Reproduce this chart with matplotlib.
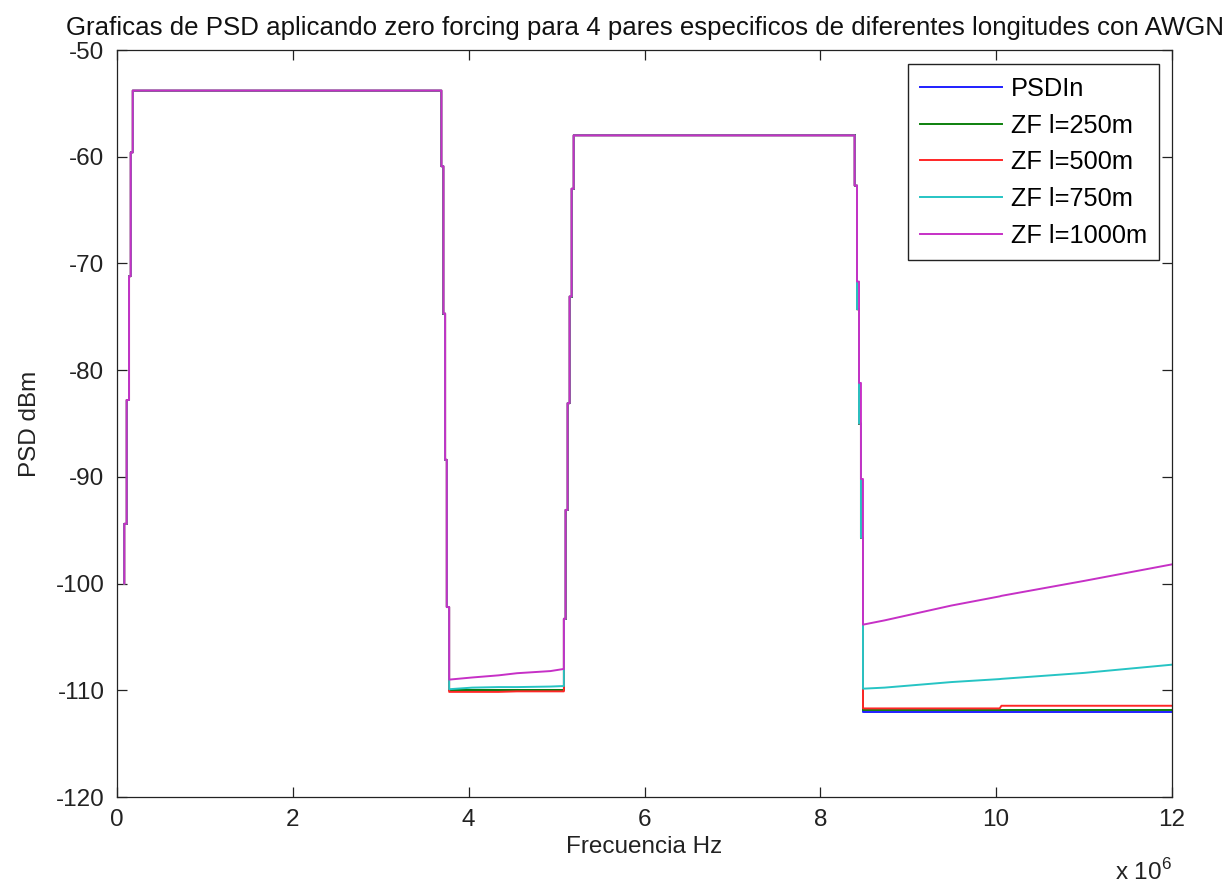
import matplotlib
matplotlib.use("Agg")
import matplotlib.pyplot as plt

plt.rcParams["font.family"] = ["Liberation Sans", "DejaVu Sans"]
plt.rcParams["axes.unicode_minus"] = False
plt.rcParams["mathtext.fontset"] = "custom"
plt.rcParams["mathtext.rm"] = "Liberation Sans"

# ---- datos: frecuencia en MHz, PSD en dBm ----
# rampa inicial (comun a todas las curvas)
f_rampa = [0.083, 0.083, 0.110, 0.110, 0.137, 0.137, 0.156, 0.156, 0.179, 0.179]
psd_rampa = [-100.0, -94.4, -94.4, -82.8, -82.8, -71.2, -71.2, -59.6, -59.6, -53.8]

# caida cerca de 3.75 MHz (comun)
f_caida1 = [3.690, 3.690, 3.713, 3.713, 3.732, 3.732, 3.751, 3.751, 3.778]
psd_caida1 = [-53.8, -60.9, -60.9, -74.7, -74.7, -88.4, -88.4, -102.2, -102.2]

# banda 3.78 - 5.08 MHz, nivel de cada curva
f_banda = [3.778, 4.04, 4.34, 4.55, 4.93, 5.083]
banda_psdin = [-110.0, -110.0, -110.0, -110.0, -110.0, -110.0]
banda_250 = [-110.0, -110.0, -110.0, -110.0, -110.0, -110.0]
banda_500 = [-110.15, -110.15, -110.15, -110.1, -110.1, -110.1]
banda_750 = [-109.9, -109.75, -109.7, -109.7, -109.65, -109.6]
banda_1000 = [-109.0, -108.8, -108.6, -108.4, -108.2, -108.0]

# subida cerca de 5.1 MHz y banda alta hasta 8.39 MHz (comun)
f_subida = [5.083, 5.102, 5.102, 5.125, 5.125, 5.148, 5.148, 5.171, 5.171, 5.194, 5.194, 8.39]
psd_subida = [-103.3, -103.3, -93.1, -93.1, -83.1, -83.1, -73.1, -73.1, -63.0, -63.0, -58.0, -58.0]

# caida cerca de 8.5 MHz
f_caida2 = [8.39, 8.417, 8.417, 8.44, 8.44, 8.462, 8.462, 8.485]
caida2_base = [-62.7, -62.7, -74.3, -74.3, -85.0, -85.0, -95.7, -95.7]
caida2_1000 = [-62.7, -62.7, -71.7, -71.7, -81.2, -81.2, -90.2, -90.2]

# ultima banda 8.5 - 12 MHz
f_cola = [8.485, 8.73, 9.49, 10.04, 10.06, 11.0, 12.0]
cola_psdin = [-112.0, -112.0, -112.0, -112.0, -112.0, -112.0, -112.0]
cola_250 = [-111.85, -111.85, -111.85, -111.85, -111.85, -111.85, -111.85]
cola_500 = [-111.7, -111.7, -111.7, -111.7, -111.45, -111.45, -111.45]
cola_750 = [-109.85, -109.75, -109.23, -108.95, -108.93, -108.37, -107.6]
cola_1000 = [-103.85, -103.45, -102.06, -101.2, -101.15, -99.75, -98.2]

nombres = ["PSDIn", "ZF l=250m", "ZF l=500m", "ZF l=750m", "ZF l=1000m"]
colores = ["#1f1fff", "#0d800d", "#ff2626", "#26c4c4", "#c630c6"]
bandas = [banda_psdin, banda_250, banda_500, banda_750, banda_1000]
caidas = [caida2_base, caida2_base, caida2_base, caida2_base, caida2_1000]
colas = [cola_psdin, cola_250, cola_500, cola_750, cola_1000]

f_total = f_rampa + f_caida1 + f_banda + f_subida + f_caida2 + f_cola

fig = plt.figure(figsize=(12.3, 8.84), dpi=100)
ax = fig.add_axes([117 / 1230, 1 - 797 / 884, 1055 / 1230, 747 / 884])

for nombre, color, banda, caida, cola in zip(nombres, colores, bandas, caidas, colas):
    psd = psd_rampa + psd_caida1 + banda + psd_subida + caida + cola
    ax.plot(f_total, psd, color=color, lw=1.4, label=nombre)

fs = 17.5
ax.set_xlim(0, 12)
ax.set_ylim(-120, -50)
ax.set_xticks(range(0, 13, 2))
ax.set_yticks(range(-120, -49, 10))
ax.tick_params(direction="in", length=7, width=0.9, top=True, right=True,
               labelsize=fs, colors="#222222", labelcolor="#222222")
ax.tick_params(axis="x", pad=9)
ax.tick_params(axis="y", pad=9)
for s in ax.spines.values():
    s.set_linewidth(0.9)
    s.set_color("#222222")

ax.set_title("Graficas de PSD aplicando zero forcing para 4 pares especificos de diferentes longitudes con AWGN",
             fontsize=18.6, pad=10.5, color="#111111")
ax.set_xlabel("Frecuencia Hz", fontsize=fs, labelpad=3, color="#222222")
ax.set_ylabel("PSD dBm", fontsize=fs, color="#222222")
ax.yaxis.set_label_coords(-0.072, 0.5)
ax.text(1.0, (797 - 880) / 747, "x 10$^6$", transform=ax.transAxes, fontsize=fs,
        ha="right", va="baseline", color="#222222")

leg = ax.legend(loc="upper right", bbox_to_anchor=(0.988, 0.981), borderaxespad=0,
                fontsize=18.3, fancybox=False, framealpha=1, edgecolor="#222222",
                handlelength=3.2, handletextpad=0.35, labelspacing=0.5, borderpad=0.5)
leg.get_frame().set_linewidth(1.0)

fig.savefig("out.png", dpi=100)
